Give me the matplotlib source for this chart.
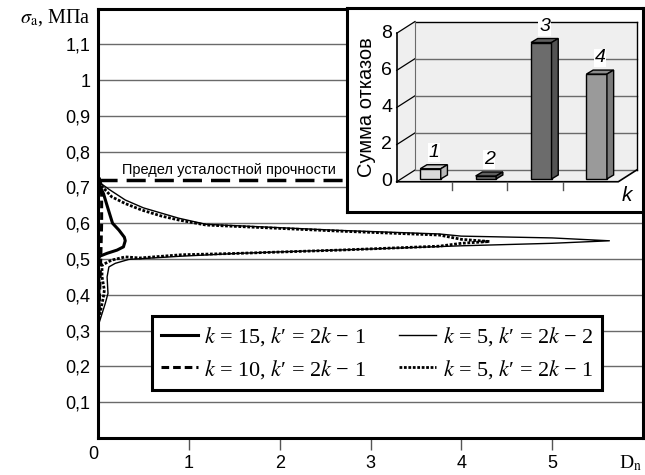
import numpy as np
import matplotlib
matplotlib.use("Agg")
import matplotlib.pyplot as plt
from matplotlib.patches import Polygon

plt.rcParams['font.family'] = ['Liberation Sans', 'DejaVu Sans']
plt.rcParams['mathtext.fontset'] = 'stix'

#Curves (D_n against sigma_a)
#k = 15, k' = 2k - 1  (thick solid)
k15_x = [0.01, 0.01, 0.0, 0.02, 0.10, 0.21, 0.28, 0.30, 0.29, 0.23, 0.16, 0.11, 0.06, 0.0, 0.0]
k15_y = [0.36, 0.45, 0.497, 0.508, 0.516, 0.525, 0.534, 0.551, 0.561, 0.581, 0.600, 0.641, 0.683, 0.715, 0.80]

#k = 10, k' = 2k - 1  (thick dashed)
k10_x = [0.01, 0.02, 0.03, 0.04, 0.04, 0.03, 0.01]
k10_y = [0.35, 0.42, 0.50, 0.60, 0.68, 0.71, 0.73]

#k = 5, k' = 2k - 2  (thin solid)
k5a_x = [0.01, 0.08, 0.11, 0.10, 0.12, 0.19, 0.34, 0.92, 1.56, 2.0, 3.0, 4.0, 5.0, 5.63,
         5.0, 4.0, 3.76, 2.66, 1.19, 0.89, 0.50, 0.30, 0.12, 0.0]
k5a_y = [0.32, 0.376, 0.404, 0.45, 0.478, 0.488, 0.499, 0.508, 0.516, 0.520, 0.528, 0.537, 0.544, 0.551,
         0.559, 0.564, 0.570, 0.580, 0.597, 0.614, 0.643, 0.665, 0.695, 0.717]

#k = 5, k' = 2k - 1  (dotted)
k5b_x = [0.0, 0.03, 0.06, 0.07, 0.044, 0.044, 0.15, 0.30, 0.46, 0.92, 1.56, 2.66, 3.76, 4.0, 4.31,
         4.0, 3.76, 2.66, 1.19, 0.89, 0.70, 0.48, 0.30, 0.15, 0.0]
k5b_y = [0.32, 0.358, 0.395, 0.413, 0.451, 0.483, 0.497, 0.506, 0.503, 0.512, 0.516, 0.525, 0.536, 0.544, 0.549,
         0.555, 0.567, 0.578, 0.595, 0.609, 0.620, 0.637, 0.655, 0.674, 0.715]

fatigue_limit = 0.72
y_ticks = [0.1, 0.2, 0.3, 0.4, 0.5, 0.6, 0.7, 0.8, 0.9, 1.0, 1.1]
y_tick_labels = ['0,1', '0,2', '0,3', '0,4', '0,5', '0,6', '0,7', '0,8', '0,9', '1', '1,1']
x_ticks = [1, 2, 3, 4, 5]

#Inset bar chart
bar_labels = ['1', '2', '3', '4']
bar_values = [0.55, 0.16, 7.35, 5.65]
inset_ticks = [0, 2, 4, 6, 8]

#Colours
Bar_Front = ['#dadada', '#6c6c6c', '#6c6c6c', '#9a9a9a']
Bar_Top = ['#cccccc', '#606060', '#606060', '#8c8c8c']
Bar_Side = ['#b8b8b8', '#535353', '#535353', '#7a7a7a']
Wall = '#efefef'
Grid_Col = '#6a6a6a'

fig = plt.figure(figsize=(6.45, 4.75), dpi=100)
ax = fig.add_axes([98/645, 37/475, 545/645, 429.5/475])
ax.set_xlim(0, 6)
ax.set_ylim(0, 1.2)

ax.set_yticks(y_ticks)
ax.set_yticklabels(y_tick_labels)
ax.set_xticks(x_ticks)
ax.set_xticklabels([str(v) for v in x_ticks])
ax.yaxis.grid(True, color=Grid_Col, linewidth=1.0)
ax.set_axisbelow(True)
ax.tick_params(axis='y', length=0, pad=5.5, labelsize=13)
ax.tick_params(axis='x', direction='out', length=8.5, width=1, color='#555555', pad=4, labelsize=13)
for s in ax.spines.values():
    s.set_linewidth(2.2)

#Curves
h1, = ax.plot(k15_x, k15_y, color='black', lw=2.2, zorder=3)
h2, = ax.plot(k10_x, k10_y, color='black', lw=2.2, ls=(0, (2.5, 1.3)), zorder=3)
h3, = ax.plot(k5a_x, k5a_y, color='black', lw=1.0, zorder=3)
h4, = ax.plot(k5b_x, k5b_y, color='black', lw=2.0, ls=(0, (1, 0.6)), zorder=3)

#Fatigue limit
ax.axhline(fatigue_limit, color='black', lw=2.5, ls=(0, (5.5, 2.6)), zorder=4)
ax.text(1.44, fatigue_limit + 0.03, 'Предел усталостной прочности', ha='center', va='center',
        fontsize=10.5)

#Axis captions
ax.text(-0.055, -0.047, '0', ha='center', va='center', fontsize=13, clip_on=False)
ax.text(5.74, -0.07, r'D$_{\mathrm{n}}$', ha='left', va='center', fontsize=14,
        family='Liberation Serif', clip_on=False)
ax.text(-0.0134, 0.978, r'$\sigma_{\mathrm{a}}$, МПа', transform=ax.transAxes, ha='right', va='center',
        fontsize=14.5, family='Liberation Serif')

leg = ax.legend([h1, h2, h3, h4],
                [r"$k$ = 15, $k$′ = 2$k$ − 1", r"$k$ = 10, $k$′ = 2$k$ − 1",
                 r"$k$ = 5, $k$′ = 2$k$ − 2", r"$k$ = 5, $k$′ = 2$k$ − 1"],
                ncol=2, loc='upper left', bbox_to_anchor=(0.099, 0.284), borderaxespad=0,
                prop={'family': ['Liberation Serif', 'DejaVu Serif'], 'size': 16}, handlelength=1.65,
                handletextpad=0.3, columnspacing=1.5, borderpad=0.4, labelspacing=0.45,
                fancybox=False, framealpha=1, edgecolor='black')
leg.get_frame().set_linewidth(2.2)
leg.set_zorder(6)

#Inset: pseudo-3D bar chart
ins = fig.add_axes([347/645, 263/475, 296/645, 204/475])
ins.set_xlim(-0.897, 4.446)
ins.set_ylim(-1.63, 9.36)
ins.set_xticks([])
ins.set_yticks([])
for s in ins.spines.values():
    s.set_linewidth(2.2)

n = len(bar_values)
WX, WV = 0.33, 0.63
top = inset_ticks[-1]
ins.add_patch(Polygon([(WX, WV), (n + WX, WV), (n + WX, top + WV), (WX, top + WV)],
                      closed=True, fc=Wall, ec='none', zorder=0))
ins.add_patch(Polygon([(0, 0), (WX, WV), (WX, top + WV), (0, top)], closed=True, fc=Wall, ec='none', zorder=0))
ins.add_patch(Polygon([(0, 0), (n, 0), (n + WX, WV), (WX, WV)], closed=True, fc=Wall, ec='none', zorder=0))
for g in inset_ticks:
    ins.plot([WX, n + WX], [g + WV, g + WV], color=Grid_Col if g < top else 'black', lw=1, zorder=1)
    ins.plot([0, WX], [g, g + WV], color='black', lw=0.9, zorder=1)
    ins.text(-0.08, g, str(g), ha='right', va='center', fontsize=14)
ins.plot([WX, WX], [WV, top + WV], color=Grid_Col, lw=0.8, zorder=1)
ins.plot([n + WX, n + WX], [WV, top + WV], color='black', lw=1, zorder=1)
ins.plot([0, 0], [0, top], color='black', lw=1.2, zorder=2)
ins.plot([0, n, n + WX], [0, 0, WV], color='black', lw=1.2, zorder=2)
for i in range(1, n):
    ins.plot([i, i], [0, -0.42], color='#555555', lw=1, zorder=2)

bars = ins.bar(np.arange(n) + 0.61, bar_values, width=0.37, bottom=0.15, color=Bar_Front,
               edgecolor='black', lw=1, zorder=3)
DX, DV = 0.121, 0.216
for r, lbl, ct, cs in zip(bars, bar_labels, Bar_Top, Bar_Side):
    x0 = r.get_x()
    x1 = x0 + r.get_width()
    y0 = r.get_y()
    y1 = y0 + r.get_height()
    ins.add_patch(Polygon([(x0, y1), (x0 + DX, y1 + DV), (x1 + DX, y1 + DV), (x1, y1)],
                          closed=True, fc=ct, ec='black', lw=1, zorder=3))
    ins.add_patch(Polygon([(x1, y0), (x1 + DX, y0 + DV), (x1 + DX, y1 + DV), (x1, y1)],
                          closed=True, fc=cs, ec='black', lw=1, zorder=3))
    ins.text((x0 + x1) / 2 + 0.06, y1 + DV + 0.2, lbl, ha='center', va='bottom', fontsize=14,
             style='italic', zorder=4, bbox=dict(fc='white', ec='none', pad=0.5))

ins.text(4.15, -0.72, 'k', ha='center', va='center', fontsize=15, style='italic')
ins.text(-0.54, 4.0, 'Сумма отказов', ha='center', va='center', rotation=90, fontsize=14.5)

plt.savefig('out.png', dpi=100)
